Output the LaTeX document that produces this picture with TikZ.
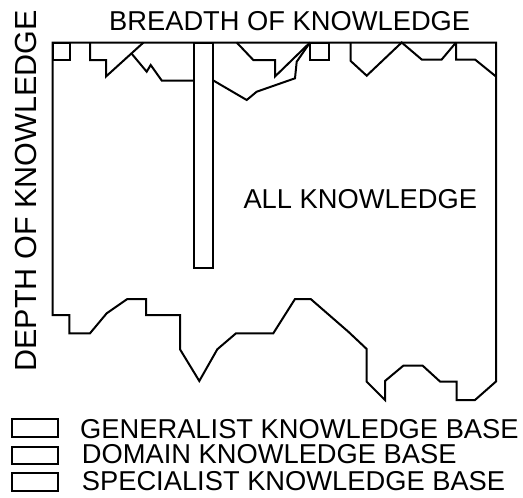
\documentclass[tikz,border=0pt]{standalone}
\usepackage{fontspec}
\setmainfont{Liberation Sans}
\begin{document}
\begin{tikzpicture}[x=1pt,y=-1pt,
  edge/.style={line width=2pt,line join=miter,black},
  label/.style={inner sep=0pt,font=\fontsize{27.3}{30}\selectfont},
  keybox/.style={line width=2pt,black}]
\useasboundingbox (0,0) rectangle (523,498);

% outer region of all knowledge
\draw[edge] (52.5,42.5) -- (496,42.5) -- (496,381.5) -- (475,400) -- (456.7,400)
  -- (456.7,381.5) -- (440,381.5) -- (422.7,365.7) -- (403.3,365.7) -- (385,381)
  -- (385,400) -- (366.7,381.7) -- (366.7,349) -- (348.3,331.7) -- (310.7,299)
  -- (295,299) -- (273.3,333.3) -- (236,333.3) -- (217.3,349.3) -- (199.3,381)
  -- (180,349.3) -- (180,315) -- (146,315) -- (146,299) -- (127.3,299)
  -- (106.7,313.3) -- (90,333.3) -- (69.3,333.3) -- (69.3,315) -- (52.5,315) -- cycle;

% specialist column
\draw[edge] (194,42.5) rectangle (212.5,268);

% small boxes along the top
\draw[edge] (52.5,42.5) rectangle (69.5,60);
\draw[edge] (310,42.5) rectangle (329,60);

% generalist / domain outlines
\draw[edge] (90,42.5) -- (90,60) -- (106,60) -- (106,76.5) -- (143.5,42.5);
\draw[edge] (131.5,53.5) -- (146.7,71.7) -- (150.7,65) -- (161.7,80.5) -- (194,80.5);
\draw[edge] (236.7,42.5) -- (253.3,60) -- (275,60) -- (275,76.5) -- (310,42.5);
\draw[edge] (212.5,80) -- (246.7,100) -- (256.7,91.7) -- (295,78.3) -- (296.7,61.7) -- (310,42.5);
\draw[edge] (350.7,42.5) -- (350.7,61) -- (366.7,75.7) -- (401.7,42.5) -- (421.7,59.5)
  -- (441.7,59.5) -- (456,42.5);
\draw[edge] (456,42.5) -- (456,59.5) -- (475,59.5) -- (496,76.5);

% axis titles
\node[label,anchor=base] (breadth) at (289.7,30) {BREADTH OF KNOWLEDGE};
\node[label,anchor=base,rotate=90,font=\fontsize{30.5}{32}\selectfont] (depth) at (36.7,191) {DEPTH OF KNOWLEDGE};
\node[label,anchor=base west] (all) at (243.3,208.3) {ALL KNOWLEDGE};

% legend
\draw[keybox] (11.7,419) rectangle (58.3,436.7);
\draw[keybox] (11.7,446.7) rectangle (58.3,464);
\draw[keybox] (11.7,473.3) rectangle (58.3,490.7);
\node[label,anchor=base west] (gen) at (80,438.3) {GENERALIST KNOWLEDGE BASE};
\node[label,anchor=base west] (dom) at (81.7,463.3) {DOMAIN KNOWLEDGE BASE};
\node[label,anchor=base west] (spec) at (81.7,490) {SPECIALIST KNOWLEDGE BASE};
\end{tikzpicture}
\end{document}
